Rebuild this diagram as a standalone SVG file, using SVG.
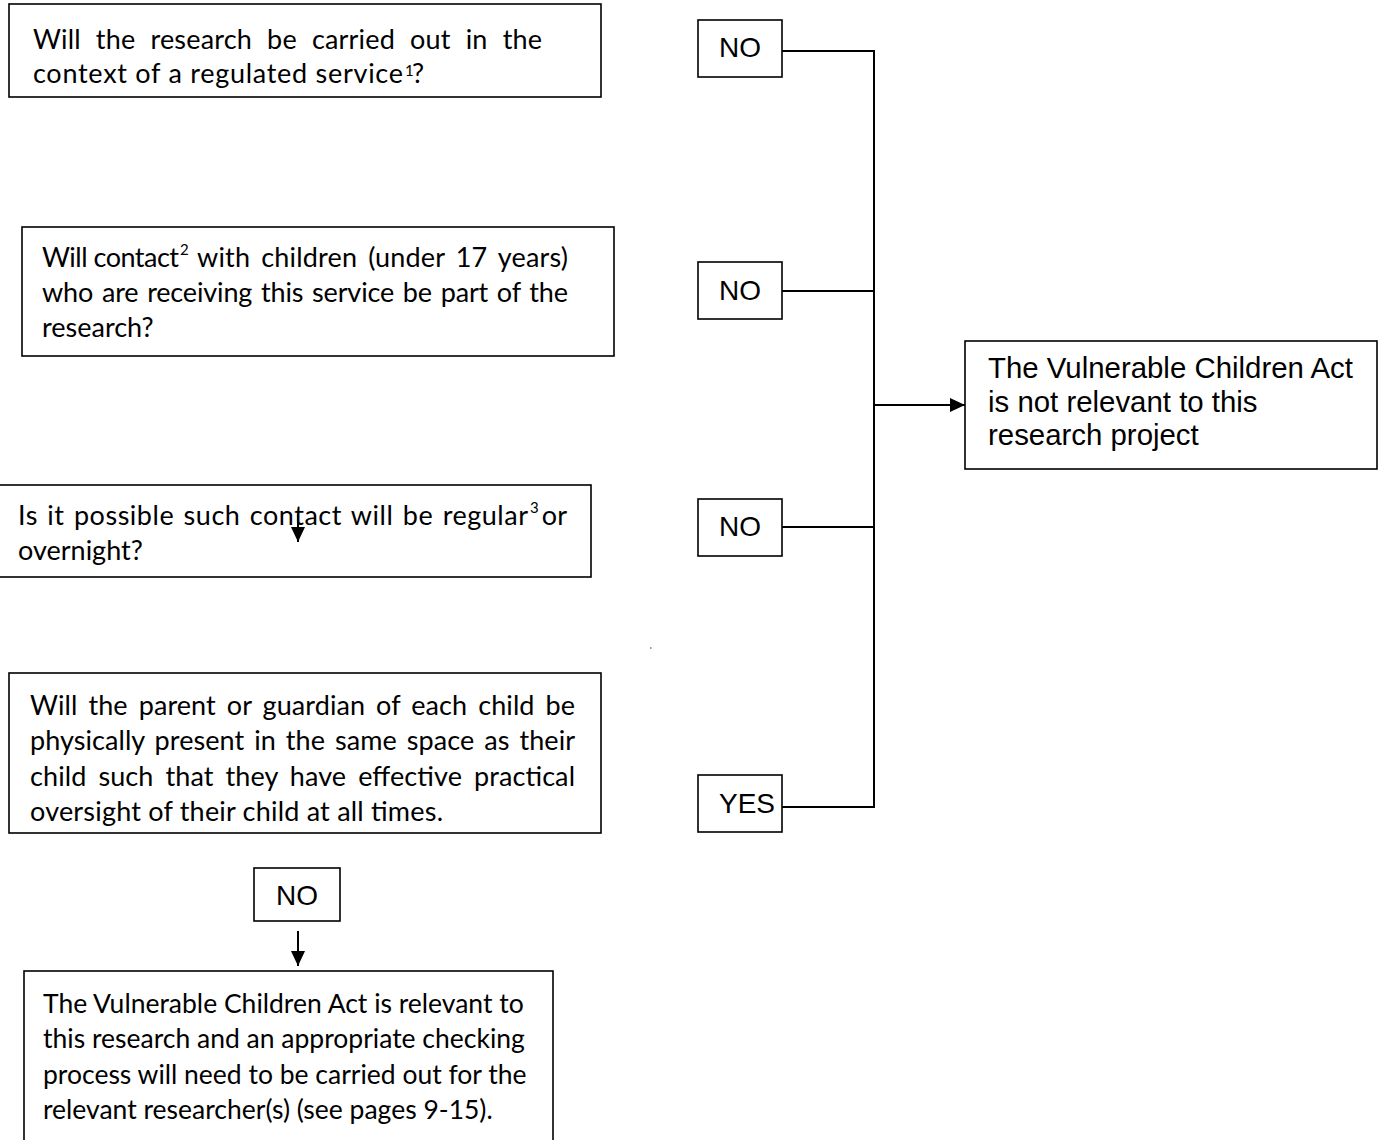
<svg xmlns="http://www.w3.org/2000/svg" width="1383" height="1140" viewBox="0 0 1383 1140">
<style>
.box{fill:#fff;stroke:#000;stroke-width:1.6}
.q{font-family:Lato,"Open Sans","Liberation Sans",sans-serif;font-size:27px;fill:#000}
.r{font-family:Lato,"Open Sans","Liberation Sans",sans-serif;font-size:26.5px;fill:#000}
.sup{font-family:Lato,"Open Sans","Liberation Sans",sans-serif;font-size:15px;fill:#000}
.a{font-family:"Liberation Sans",Arial,sans-serif;font-size:28px;fill:#000}
.b{font-family:"Liberation Sans",Arial,sans-serif;font-size:29.4px;fill:#000}
.ln{fill:none;stroke:#000;stroke-width:2}
</style>
<defs>
<marker id="ah" markerUnits="userSpaceOnUse" markerWidth="16" markerHeight="14" refX="15" refY="7" orient="auto">
<path d="M0,0 L15,7 L0,14 Z" fill="#000"/>
</marker>
</defs>
<rect width="1383" height="1140" fill="#fff"/>

<g id="connectors">
<polyline class="ln" points="782,51 874,51 874,807 782,807"/>
<line class="ln" x1="782" y1="291" x2="874" y2="291"/>
<line class="ln" x1="782" y1="527" x2="874" y2="527"/>
<line class="ln" x1="874" y1="405" x2="965" y2="405" marker-end="url(#ah)"/>
<line class="ln" x1="298" y1="931" x2="298" y2="966" marker-end="url(#ah)"/>
</g>

<g id="q1">
<rect class="box" x="9" y="4" width="592" height="93"/>
<text class="q" x="33" y="49" word-spacing="8" textLength="509" lengthAdjust="spacing">Will the research be carried out in the</text>
<text class="q" x="33" y="83" textLength="370" lengthAdjust="spacing">context of a regulated service</text>
<text class="sup" x="405" y="76">1</text>
<text class="q" x="412" y="83">?</text>
</g>

<g id="q2">
<rect class="box" x="22" y="227" width="592" height="129"/>
<text class="q" x="42" y="267" textLength="137" lengthAdjust="spacing">Will contact</text>
<text class="sup" x="180" y="255">2</text>
<text class="q" x="197" y="267" word-spacing="4" textLength="371" lengthAdjust="spacing">with children (under 17 years)</text>
<text class="q" x="42" y="302" word-spacing="2" textLength="526" lengthAdjust="spacing">who are receiving this service be part of the</text>
<text class="q" x="42" y="337">research?</text>
</g>

<g id="q3">
<rect class="box" x="-2" y="485" width="593" height="92"/>
<text class="q" x="18" y="525" word-spacing="2" textLength="510" lengthAdjust="spacing">Is it possible such contact will be regular</text>
<text class="sup" x="530" y="513">3</text>
<text class="q" x="567" y="525" text-anchor="end">or</text>
<text class="q" x="18" y="560">overnight?</text>
<line class="ln" x1="298" y1="514" x2="298" y2="542" marker-end="url(#ah)"/>
</g>

<g id="q4">
<rect class="box" x="9" y="673" width="592" height="160"/>
<text class="q" x="30" y="715" word-spacing="4" textLength="545" lengthAdjust="spacing">Will the parent or guardian of each child be</text>
<text class="q" x="30" y="750" word-spacing="3" textLength="545" lengthAdjust="spacing">physically present in the same space as their</text>
<text class="q" x="30" y="786" word-spacing="5" textLength="545" lengthAdjust="spacing">child such that they have effective practical</text>
<text class="q" x="30" y="821" textLength="413" lengthAdjust="spacing">oversight of their child at all times.</text>
</g>

<g id="no-bottom">
<rect class="box" x="254" y="868" width="86" height="53"/>
<text class="a" x="297" y="905" text-anchor="middle">NO</text>
</g>

<g id="result-relevant">
<rect class="box" x="24" y="971" width="529" height="200"/>
<text class="r" x="43" y="1013">The Vulnerable Children Act is relevant to</text>
<text class="r" x="43" y="1048">this research and an appropriate checking</text>
<text class="r" x="43" y="1084">process will need to be carried out for the</text>
<text class="r" x="43" y="1119">relevant researcher(s) (see pages 9-15).</text>
</g>

<g id="no1">
<rect class="box" x="698" y="20" width="84" height="57"/>
<text class="a" x="740" y="57" text-anchor="middle">NO</text>
</g>
<g id="no2">
<rect class="box" x="698" y="262" width="84" height="57"/>
<text class="a" x="740" y="300" text-anchor="middle">NO</text>
</g>
<g id="no3">
<rect class="box" x="698" y="499" width="84" height="57"/>
<text class="a" x="740" y="536" text-anchor="middle">NO</text>
</g>
<g id="yes">
<rect class="box" x="698" y="775" width="84" height="57"/>
<text class="a" x="719" y="813">YES</text>
</g>

<g id="result-not-relevant">
<rect class="box" x="965" y="341" width="412" height="128"/>
<text class="b" x="988" y="378">The Vulnerable Children Act</text>
<text class="b" x="988" y="412">is not relevant to this</text>
<text class="b" x="988" y="445">research project</text>
</g>

<rect x="650" y="647" width="1.5" height="2" fill="#999"/>
</svg>
